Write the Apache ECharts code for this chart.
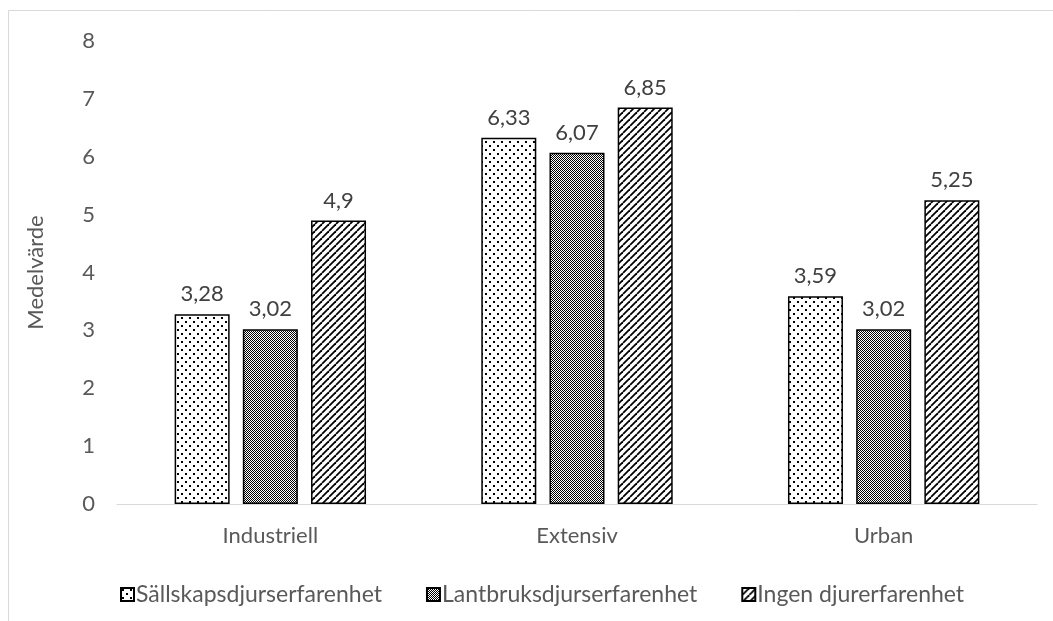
<!DOCTYPE html>
<html>
<head>
<meta charset="utf-8">
<script src="https://cdn.jsdelivr.net/npm/echarts@6/dist/echarts.min.js"></script>
<style>
  html, body { margin: 0; padding: 0; background: #fff; }
  #chart { width: 1053px; height: 621px; }
</style>
</head>
<body>
<div id="chart"></div>
<script>
// Medelvärde per landskapstyp och djurerfarenhet
const categories = ['Industriell', 'Extensiv', 'Urban'];
const seriesNames = ['Sällskapsdjurserfarenhet', 'Lantbruksdjurserfarenhet', 'Ingen djurerfarenhet'];
const sallskap = [3.28, 6.33, 3.59];
const lantbruk = [3.02, 6.07, 3.02];
const ingen = [4.9, 6.85, 5.25];
const yTicks = [0, 1, 2, 3, 4, 5, 6, 7, 8];

// Fill patterns drawn on small tiles
function tile(size, draw) {
  const c = document.createElement('canvas');
  c.width = size; c.height = size;
  const ctx = c.getContext('2d');
  ctx.fillStyle = '#fff';
  ctx.fillRect(0, 0, size, size);
  draw(ctx, size);
  return { image: c, repeat: 'repeat' };
}

const dots = tile(8, (ctx) => {
  ctx.fillStyle = '#000';
  ctx.fillRect(1, 1, 2, 2);
  ctx.fillRect(5, 5, 2, 2);
});

const checker = tile(2, (ctx) => {
  ctx.fillStyle = '#000';
  ctx.fillRect(0, 0, 1, 1);
  ctx.fillRect(1, 1, 1, 1);
});

const stripes = tile(7, (ctx, s) => {
  ctx.strokeStyle = '#000';
  ctx.lineWidth = 1.8;
  for (let k = -1; k <= 1; k++) {
    ctx.beginPath();
    ctx.moveTo(k * s, s);
    ctx.lineTo(k * s + s, 0);
    ctx.stroke();
  }
});

const fills = [dots, checker, stripes];
const values = [sallskap, lantbruk, ingen];

const fmt = (v) => String(v).replace('.', ',');
const font = 'Lato, "Open Sans", sans-serif';

const chart = echarts.init(document.getElementById('chart'), null, { renderer: 'canvas' });

chart.setOption({
  animation: false,
  backgroundColor: '#fff',
  graphic: [{
    type: 'rect',
    shape: { x: 8.5, y: 10.5, width: 1100, height: 700 },
    style: { fill: 'none', stroke: '#d9d9d9', lineWidth: 1 },
    silent: true
  }],
  grid: { left: 117, right: 16, top: 41, bottom: 117 },
  legend: {
    data: seriesNames,
    left: 115,
    top: 578,
    icon: 'rect',
    itemWidth: 13,
    itemHeight: 13,
    itemGap: 44,
    textStyle: { color: '#595959', fontSize: 23, fontFamily: font, padding: [0, 0, 0, -3] }
  },
  xAxis: {
    type: 'category',
    data: categories,
    axisLine: { lineStyle: { color: '#d9d9d9', width: 1 } },
    axisTick: { show: false },
    axisLabel: { color: '#595959', fontSize: 22, fontFamily: font, margin: 21 }
  },
  yAxis: {
    type: 'value',
    min: yTicks[0],
    max: yTicks[yTicks.length - 1],
    interval: 1,
    name: 'Medelvärde',
    nameLocation: 'middle',
    nameGap: 70,
    nameRotate: 90,
    nameTextStyle: { color: '#595959', fontSize: 22, fontFamily: font },
    splitLine: { show: false },
    axisLine: { show: false },
    axisTick: { show: false },
    axisLabel: { color: '#595959', fontSize: 22, fontFamily: font, margin: 22 }
  },
  series: seriesNames.map((name, i) => ({
    name,
    type: 'bar',
    data: values[i],
    barWidth: 55,
    barGap: '24%',
    itemStyle: { color: fills[i], borderColor: '#000', borderWidth: 1.5 },
    label: {
      show: true,
      position: 'top',
      distance: 9,
      color: '#404040',
      fontSize: 22,
      fontFamily: font,
      formatter: (p) => fmt(p.value)
    }
  }))
});
</script>
</body>
</html>
